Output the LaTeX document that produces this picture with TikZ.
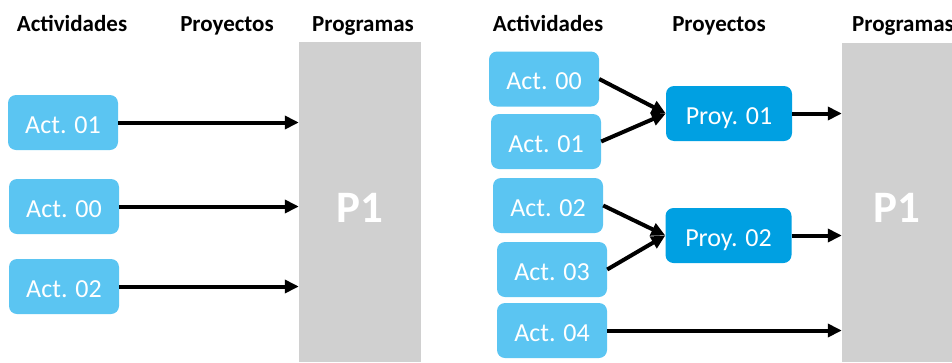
\documentclass[tikz,border=0pt]{standalone}
\usetikzlibrary{arrows.meta}
\usepackage{xcolor}
\usepackage{fontspec}
\setmainfont{Carlito}

\definecolor{actblue}{HTML}{5BC5F2}
\definecolor{proyblue}{HTML}{00A0E2}
\definecolor{proggray}{HTML}{D0D0D0}

\tikzset{
  acti/.style={fill=actblue, rounded corners=8pt, minimum width=110pt, minimum height=55pt,
    inner sep=0pt, text=white, text height=21pt, text depth=0pt,
    font=\fontsize{26}{30}\selectfont},
  proy/.style={acti, fill=proyblue, minimum width=126pt},
  prog/.style={fill=proggray, inner sep=0pt, text=white, text height=40pt, text depth=0pt,
    font=\fontsize{45}{50}\selectfont\bfseries},
  head/.style={anchor=base, inner sep=0pt, font=\fontsize{23}{26}\selectfont\bfseries},
  link/.style={line width=4pt, -{Triangle[length=14pt,width=13pt]}}
}

\begin{document}
\begin{tikzpicture}[x=1pt, y=-1pt]
        \useasboundingbox (0,0) rectangle (952,362);

        % headers
        \node[head] (hactA) at (72,31) {Actividades};
        \node[head] (hproyA) at (227,31) {Proyectos};
        \node[head] (hprogA) at (363,31) {Programas};
        \node[head] (hactB) at (548,31) {Actividades};
        \node[head] (hproyB) at (719,31) {Proyectos};
        \node[head] (hprogB) at (903,31) {Programas};

        % left: activities straight to the programme
        \node[prog, minimum width=122pt, minimum height=320pt] (progA) at (360,202) {P1};
        \node[acti] (aA01) at (63,122.5) {Act. 01};
        \node[acti] (aA00) at (64,206.5) {Act. 00};
        \node[acti] (aA02) at (64,286.5) {Act. 02};

        \path[link]
            (aA01.east) edge (aA01.east -| progA.west)
            (aA00.east) edge (aA00.east -| progA.west)
            (aA02.east) edge (aA02.east -| progA.west);

        % right: activities grouped in projects
        \node[prog, minimum width=110pt, minimum height=319pt] (progB) at (897,202.5) {P1};
        \node[acti] (aB00) at (544,79) {Act. 00};
        \node[acti] (aB01) at (546,141.5) {Act. 01};
        \node[acti] (aB02) at (548,205.5) {Act. 02};
        \node[acti] (aB03) at (552,269.5) {Act. 03};
        \node[acti] (aB04) at (552,330.5) {Act. 04};
        \node[proy] (pB01) at (729,113.5) {Proy. 01};
        \node[proy] (pB02) at (728.5,235.5) {Proy. 02};

        \path[link]
            (aB00.east) edge (pB01.west)
            (aB01.east) edge (pB01.west)
            (aB02.east) edge (pB02.west)
            (aB03.east) edge (pB02.west)
            (pB01.east) edge (pB01.east -| progB.west)
            (pB02.east) edge (pB02.east -| progB.west)
            (aB04.east) edge (aB04.east -| progB.west);

        \end{tikzpicture}
\end{document}
